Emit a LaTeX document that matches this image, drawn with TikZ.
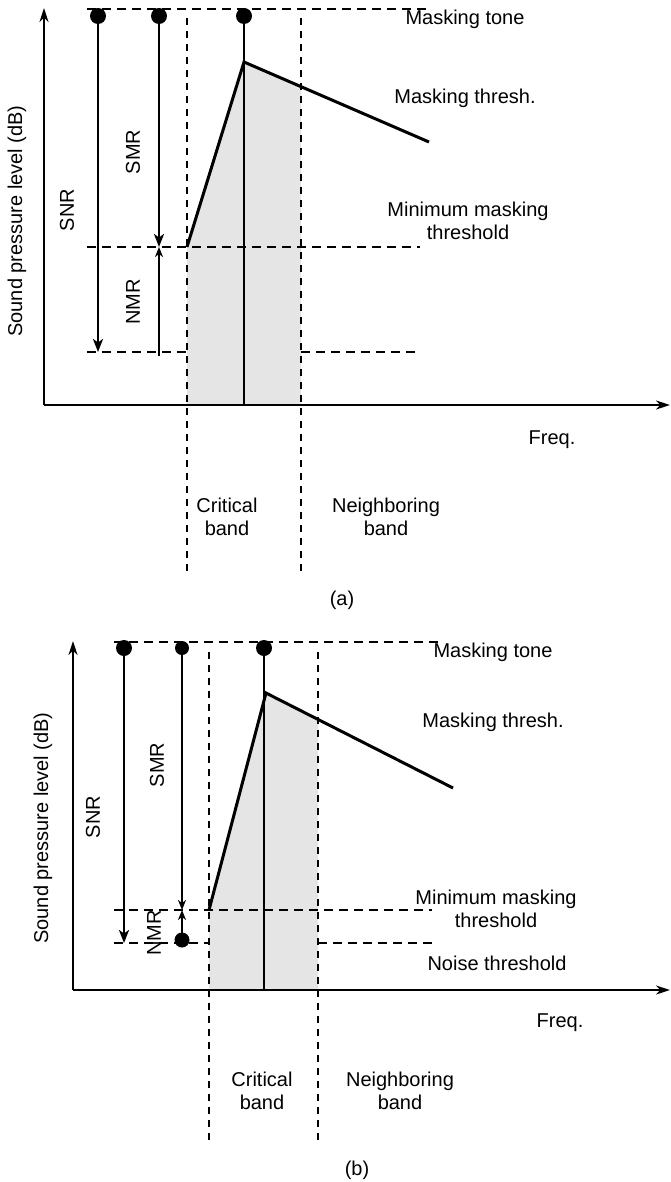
\documentclass[tikz,border=0pt]{standalone}
\usepackage{fontspec}
\setmainfont{Liberation Sans}
\usetikzlibrary{arrows.meta}
\begin{document}
\begin{tikzpicture}[x=1pt,y=-1pt,
 lbl/.style={font=\fontsize{20}{23}\selectfont, inner sep=0pt, align=center},
 dsh/.style={line width=1.7pt, dash pattern=on 9pt off 6pt},
 vdsh/.style={line width=1.6pt, dash pattern=on 7pt off 6pt},
 axis/.style={line width=2pt, -{Stealth[length=14pt,width=9pt,inset=4.5pt]}},
 tonedot/.style={circle, fill=black, inner sep=0pt, minimum size=16pt},
 thr/.style={line width=3pt, line join=miter},
 toneline/.style={line width=2.4pt},
 bigarr/.style={line width=2.4pt, -{Stealth[length=13pt,width=10pt,inset=3.5pt]}},
 smarr/.style={line width=1.8pt, -{Stealth[length=10pt,width=8pt,inset=3pt]}},
 shade/.style={fill=black!10},
]
\useasboundingbox (0,0) rectangle (671,1182);

% ================= panel (a) =================
\coordinate (aL) at (187,247);
\coordinate (aP) at (244,62);
\coordinate (aR) at (301,86.6);
\coordinate (aRB) at (301,405);
\coordinate (aLB) at (187,405);
\coordinate (aE) at (429,142);
\fill[shade] (aL) -- (aP) -- (aR) -- (aRB) -- (aLB) -- cycle;

\coordinate (aO) at (44,405);
\coordinate (aYT) at (44,8);
\coordinate (aXR) at (670,405);
\draw[axis] (aO) -- (aYT);
\draw[axis] (aO) -- (aXR);

% dashed lines
\coordinate (aT1) at (87,9);   \coordinate (aT2) at (430,9);
\coordinate (aM1) at (87,247); \coordinate (aM2) at (420,247);
\coordinate (aB1) at (87,352); \coordinate (aB2) at (187,352);
\coordinate (aB3) at (301,352); \coordinate (aB4) at (420,352);
\coordinate (aV1t) at (187,18); \coordinate (aV1b) at (187,577);
\coordinate (aV2t) at (301,18); \coordinate (aV2b) at (301,577);
\draw[dsh] (aT1) -- (aT2);
\draw[dsh] (aM1) -- (aM2);
\draw[dsh] (aB1) -- (aB2);
\draw[dsh] (aB3) -- (aB4);
\draw[vdsh] (aV1t) -- (aV1b);
\draw[vdsh] (aV2t) -- (aV2b);

% dots and arrows
\node[tonedot] (aD1) at (98,16) {};
\node[tonedot] (aD2) at (159,16) {};
\node[tonedot] (aD3) at (244,16) {};
\coordinate (aSNRe) at (98,352);
\coordinate (aSMRe) at (159,247);
\coordinate (aNMRs) at (159,356);
\coordinate (aToneB) at (244,405);
\draw[bigarr] (aD1.center) -- (aSNRe);
\draw[bigarr] (aD2.center) -- (aSMRe);
\draw[smarr] (aNMRs) -- (aSMRe);
\draw[toneline] (aD3.center) -- (aToneB);
\draw[thr] (aL) -- (aP) -- (aE);

% labels
\node[lbl, rotate=90] (aYlab) at (17,221) {Sound pressure level (dB)};
\node[lbl, rotate=90] (aSNR) at (67,210) {SNR};
\node[lbl, rotate=90] (aSMR) at (133,152) {SMR};
\node[lbl, rotate=90] (aNMR) at (133,302) {NMR};
\node[lbl] (aMT) at (465,19) {Masking tone};
\node[lbl] (aMTh) at (465,98) {Masking thresh.};
\node[lbl] (aMin) at (468,221) {Minimum masking\\threshold};
\node[lbl] (aFreq) at (552,440) {Freq.};
\node[lbl] (aCrit) at (227,517) {Critical\\band};
\node[lbl] (aNeig) at (386,517) {Neighboring\\band};
\node[lbl] (aCap) at (342,600) {(a)};

% ================= panel (b) =================
\coordinate (bL) at (209,910);
\coordinate (bP) at (266,693);
\coordinate (bR) at (318,719.4);
\coordinate (bRB) at (318,990);
\coordinate (bLB) at (209,990);
\coordinate (bE) at (453,788);
\fill[shade] (bL) -- (bP) -- (bR) -- (bRB) -- (bLB) -- cycle;

\coordinate (bO) at (73,990);
\coordinate (bYT) at (73,641);
\coordinate (bXR) at (670,990);
\draw[axis] (bO) -- (bYT);
\draw[axis] (bO) -- (bXR);

\coordinate (bT1) at (114,642); \coordinate (bT2) at (440,642);
\coordinate (bM1) at (114,910); \coordinate (bM2) at (432,910);
\coordinate (bB1) at (114,943); \coordinate (bB2) at (209,943);
\coordinate (bB3) at (318,943); \coordinate (bB4) at (432,943);
\coordinate (bV1t) at (209,652); \coordinate (bV1b) at (209,1140);
\coordinate (bV2t) at (318,652); \coordinate (bV2b) at (318,1140);
\draw[dsh] (bT1) -- (bT2);
\draw[dsh] (bM1) -- (bM2);
\draw[dsh] (bB1) -- (bB2);
\draw[dsh] (bB3) -- (bB4);
\draw[vdsh] (bV1t) -- (bV1b);
\draw[vdsh] (bV2t) -- (bV2b);

\node[tonedot] (bD1) at (124,648) {};
\node[tonedot, minimum size=14pt] (bD2) at (182,648) {};
\node[tonedot] (bD3) at (264,648) {};
\node[tonedot, minimum size=15pt] (bD4) at (182,940) {};
\coordinate (bSNRe) at (124,943);
\coordinate (bSMRe) at (182,910);
\coordinate (bToneB) at (264,990);
\draw[bigarr] (bD1.center) -- (bSNRe);
\draw[smarr] (bD2.center) -- (bSMRe);
\draw[smarr] (bD4.center) -- (bSMRe);
\draw[toneline] (bD3.center) -- (bToneB);
\draw[thr] (bL) -- (bP) -- (bE);

\node[lbl, rotate=90] (bYlab) at (43,828) {Sound pressure level (dB)};
\node[lbl, rotate=90] (bSNR) at (93,817) {SNR};
\node[lbl, rotate=90] (bSMR) at (157,765) {SMR};
\node[lbl, rotate=90] (bNMR) at (154,933) {NMR};
\node[lbl] (bMT) at (493,652) {Masking tone};
\node[lbl] (bMTh) at (493,722) {Masking thresh.};
\node[lbl] (bMin) at (496,909) {Minimum masking\\threshold};
\node[lbl] (bNoise) at (497,963) {Noise threshold};
\node[lbl] (bFreq) at (560,1023) {Freq.};
\node[lbl] (bCrit) at (262,1091) {Critical\\band};
\node[lbl] (bNeig) at (400,1091) {Neighboring\\band};
\node[lbl] (bCap) at (357,1170) {(b)};
\end{tikzpicture}
\end{document}
